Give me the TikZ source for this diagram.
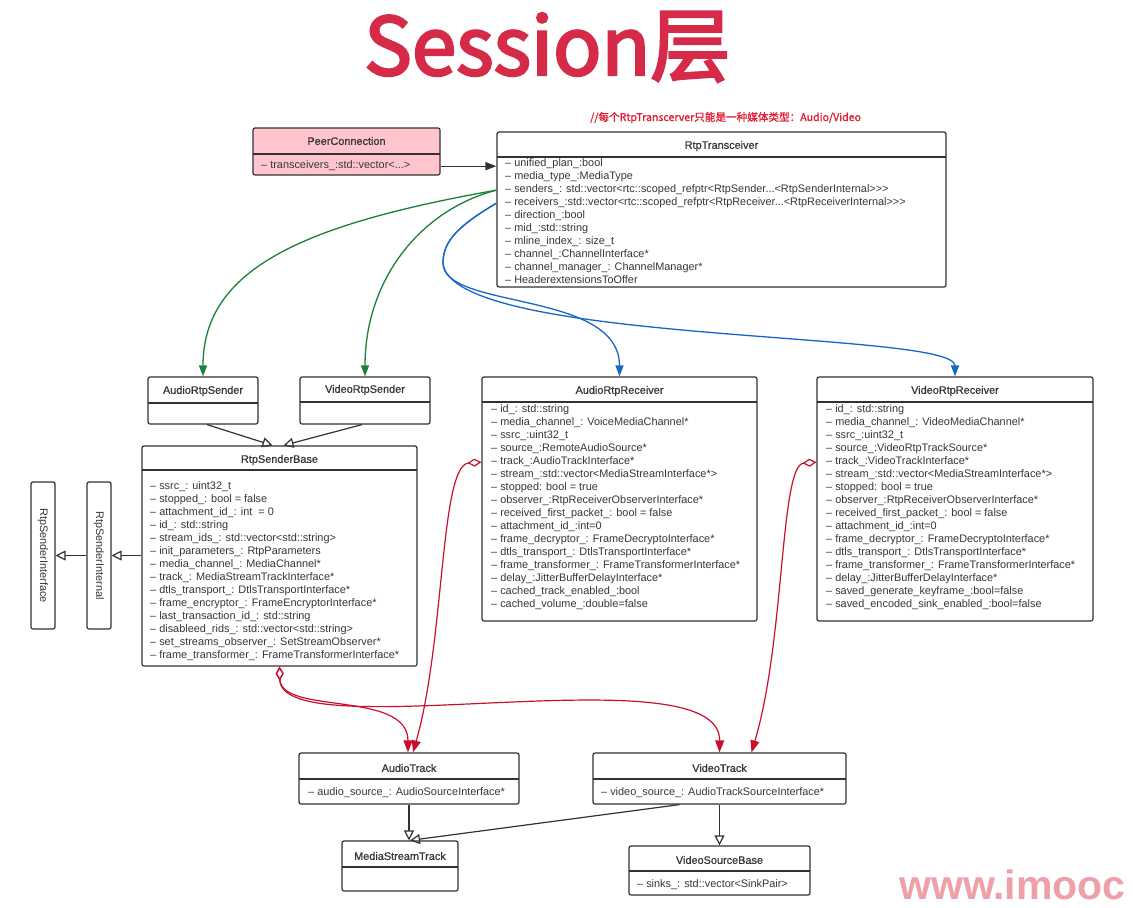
\documentclass[tikz,border=0pt]{standalone}
\usepackage{fontspec}
\setmainfont{Liberation Sans}
\newfontfamily\cjkf{Noto Sans CJK SC}[FakeBold=1.2]
\newfontfamily\bigf{Noto Sans CJK SC}[FakeBold=3]
\newfontfamily\ttlf{Liberation Sans}[FakeBold=0.8]
\usetikzlibrary{arrows.meta}
\definecolor{bd}{RGB}{50,50,50}
\definecolor{tx}{RGB}{55,55,55}
\definecolor{pinkfill}{RGB}{255,196,204}
\definecolor{grn}{RGB}{28,128,56}
\definecolor{blu}{RGB}{22,102,200}
\definecolor{rd}{RGB}{200,16,46}
\definecolor{titlered}{RGB}{213,43,72}
\definecolor{cmtred}{RGB}{225,30,50}
\definecolor{wm}{RGB}{238,160,168}
\newcommand\mydots{...}
\newcommand\mygtgt{>{}>{}>}
\tikzset{
  cls/.style={draw=bd, line width=1.2pt, rounded corners=2pt, fill=white, inner sep=0pt},
  sepline/.style={draw=bd, line width=1.2pt},
  attr/.style={anchor=base west, inner sep=0pt, text=tx, font=\fontsize{10.9}{12}\selectfont},
  ttl/.style={inner sep=0pt, text=tx, font=\ttlf\fontsize{10.9}{12}\selectfont},
  vtxt/.style={inner sep=0pt, text=tx, rotate=-90, font=\fontsize{10.9}{12}\selectfont},
  gen/.style={draw=bd, line width=1.2pt, -{Triangle[open, length=10pt, width=10pt]}},
  assoc/.style={draw=bd, line width=1.3pt, -{Triangle[length=11pt, width=8pt]}},
  grnarr/.style={draw=grn, line width=1.3pt, -{Triangle[length=11pt, width=8pt]}},
  bluarr/.style={draw=blu, line width=1.3pt, -{Triangle[length=11pt, width=8pt]}},
  redagg/.style={draw=rd, line width=1.2pt, {Diamond[open, length=14pt, width=8pt]}-{Triangle[length=12pt, width=9pt]}},
}
\newcommand\umlcls[8]{%
  \node[cls, minimum width={(#4)-(#2)}, minimum height={(#5)-(#3)}] (#1) at ({((#2)+(#4))/2},{((#3)+(#5))/2}) {};
  \draw[sepline] (#2,#8) -- (#4,#8);
  \node[ttl] (#1-t) at ({((#2)+(#4))/2},#7) {#6};
}
\newcommand\umlattrs[4]{%
  \foreach \t [count=\i] in {#4} {\node[attr] (#1-\i) at (#2,{(#3)+3.8+13*(\i-1)}) {\t};}
}
\begin{document}
\begin{tikzpicture}[x=1pt,y=-1pt]
\useasboundingbox[fill=white] (0,0) rectangle (1133,908);

% title, comment, watermark
\node[anchor=base west, inner sep=0pt, text=titlered, font=\bigf\fontsize{80}{84}\selectfont] (title) at (364,75) {Session层};
\node[anchor=base west, inner sep=0pt, text=cmtred, font=\cjkf\fontsize{10.6}{12}\selectfont] (cmt) at (590,121) {//每个RtpTranscerver只能是一种媒体类型：Audio/Video};
\node[anchor=base west, inner sep=0pt, text=wm, font=\bfseries\fontsize{41}{44}\selectfont] (wmark) at (899,899) {www.imooc};

% PeerConnection
\node[cls, fill=pinkfill, minimum width=187, minimum height=47] (pc) at (346.5,151.5) {};
\draw[sepline] (253,154) -- (440,154);
\node[ttl] (pc-t) at (346.5,141) {PeerConnection};
\node[attr] (pc-1) at (261,168.8) {– transceivers\_:std::vector<\mydots>};

% RtpTransceiver
\umlcls{rtrans}{497}{132}{946}{287}{RtpTransceiver}{146}{157}
\umlattrs{rtrans}{505}{163}{– unified\_plan\_:bool, – media\_type\_:MediaType, – senders\_: std::vector<rtc::scoped\_refptr<RtpSender\mydots<RtpSenderInternal\mygtgt, – receivers\_:std::vector<rtc::scoped\_refptr<RtpReceiver\mydots<RtpReceiverInternal\mygtgt, – direction\_:bool, – mid\_:std::string, – mline\_index\_: size\_t, – channel\_:ChannelInterface*, – channel\_manager\_: ChannelManager*, – HeaderextensionsToOffer}

% senders
\umlcls{asnd}{148}{377}{258}{424}{AudioRtpSender}{391}{403}
\umlcls{vsnd}{300}{377}{430}{424}{VideoRtpSender}{390}{402}

% RtpSenderBase
\umlcls{rsb}{142}{446}{417}{666}{RtpSenderBase}{460}{470}
\umlattrs{rsb}{150}{486}{– ssrc\_: uint32\_t, – stopped\_: bool = false, – attachment\_id\_: int\ \ = 0, – id\_: std::string, – stream\_ids\_: std::vector<std::string>, – init\_parameters\_: RtpParameters, – media\_channel\_: MediaChannel*, – track\_: MediaStreamTrackInterface*, – dtls\_transport\_: DtlsTransportInterface*, – frame\_encryptor\_: FrameEncryptorInterface*, – last\_transaction\_id\_: std::string, – disableed\_rids\_: std::vector<std::string>, – set\_streams\_observer\_: SetStreamObserver*, – frame\_transformer\_: FrameTransformerInterface*}

% interfaces (vertical)
\node[cls, minimum width=24, minimum height=147] (rsint) at (99,555.5) {};
\node[vtxt] (rsint-t) at (rsint.center) {RtpSenderInternal};
\node[cls, minimum width=24, minimum height=147] (rsif) at (43,555.5) {};
\node[vtxt] (rsif-t) at (rsif.center) {RtpSenderInterface};

% receivers
\umlcls{arcv}{482}{377}{757}{621}{AudioRtpReceiver}{391}{402}
\umlattrs{arcv}{491}{409}{– id\_: std::string, – media\_channel\_: VoiceMediaChannel*, – ssrc\_:uint32\_t, – source\_:RemoteAudioSource*, – track\_:AudioTrackInterface*, – stream\_:std::vector<MediaStreamInterface*>, – stopped: bool = true, – observer\_:RtpReceiverObserverInterface*, – received\_first\_packet\_: bool = false, – attachment\_id\_:int=0, – frame\_decryptor\_: FrameDecryptoInterface*, – dtls\_transport\_: DtlsTransportInterface*, – frame\_transformer\_: FrameTransformerInterface*, – delay\_:JitterBufferDelayInterface*, – cached\_track\_enabled\_:bool, – cached\_volume\_:double=false}

\umlcls{vrcv}{817}{377}{1093}{621}{VideoRtpReceiver}{391}{402}
\umlattrs{vrcv}{826}{409}{– id\_: std::string, – media\_channel\_: VideoMediaChannel*, – ssrc\_:uint32\_t, – source\_:VideoRtpTrackSource*, – track\_:VideoTrackInterface*, – stream\_:std::vector<MediaStreamInterface*>, – stopped: bool = true, – observer\_:RtpReceiverObserverInterface*, – received\_first\_packet\_: bool = false, – attachment\_id\_:int=0, – frame\_decryptor\_: FrameDecryptoInterface*, – dtls\_transport\_: DtlsTransportInterface*, – frame\_transformer\_: FrameTransformerInterface*, – delay\_:JitterBufferDelayInterface*, – saved\_generate\_keyframe\_:bool=false, – saved\_encoded\_sink\_enabled\_:bool=false}

% tracks
\umlcls{atrack}{299}{753}{519}{804}{AudioTrack}{768}{779}
\node[attr] (atrack-1) at (308,795.8) {– audio\_source\_: AudioSourceInterface*};
\umlcls{vtrack}{593}{753}{846}{804}{VideoTrack}{768}{779}
\node[attr] (vtrack-1) at (601,795.8) {– video\_source\_: AudioTrackSourceInterface*};
\umlcls{mst}{342}{841}{458}{891}{MediaStreamTrack}{856}{867}
\umlcls{vsb}{629}{846}{810}{895}{VideoSourceBase}{860}{871}
\node[attr] (vsb-1) at (637,887.8) {– sinks\_: std::vector<SinkPair>};

% connectors
\draw[assoc] (pc.east |- pc-1.mid) -- (rtrans.west |- pc-1.mid);

\draw[grnarr] (rtrans.west |- rtrans-3.mid) .. controls (300,225) and (203,270) .. (asnd.north);
\draw[grnarr] (rtrans.west |- rtrans-3.mid) .. controls (420,210) and (365,280) .. (vsnd.north);

\coordinate (bl) at (443,263);
\draw[bluarr] (rtrans.west |- rtrans-4.mid) .. controls (460,225) and (443,240) .. (bl) .. controls (443,310) and (619.5,290) .. (arcv.north);
\draw[bluarr] (rtrans.west |- rtrans-4.mid) .. controls (460,225) and (443,240) .. (bl) .. controls (450,345) and (955,330) .. (vrcv.north);

\draw[gen] ([xshift=4pt]asnd.south) -- ([xshift=-7pt]rsb.north);
\draw[gen] ([xshift=-3pt]vsnd.south) -- ([xshift=4pt]rsb.north);
\draw[gen] (rsb.west |- rsint.center) -- (rsint.east);
\draw[gen] (rsint.west) -- (rsif.east);

\draw[redagg] (arcv.west |- arcv-5.mid) .. controls (440,465) and (445,640) .. ([xshift=4pt]atrack.north);
\draw[redagg] (vrcv.west |- vrcv-5.mid) .. controls (780,465) and (785,640) .. ([xshift=32pt]vtrack.north);
\draw[redagg] (rsb.south) .. controls (281,715) and (408,690) .. ([xshift=-1pt]atrack.north);
\draw[redagg] (rsb.south) .. controls (281,750) and (721,650) .. (vtrack.north);

\draw[gen] (atrack.south) -- (atrack.south |- mst.north);
\draw[gen] ([xshift=-40pt]vtrack.south) -- ([xshift=10pt]mst.north);
\draw[gen] (vtrack.south) -- (vtrack.south |- vsb.north);
\end{tikzpicture}
\end{document}
